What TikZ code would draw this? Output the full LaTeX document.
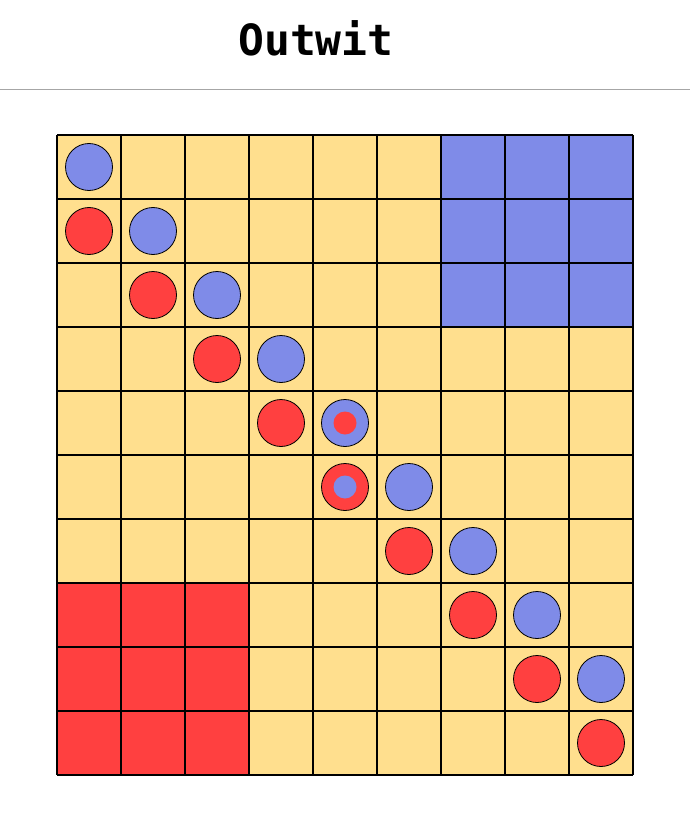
\documentclass[tikz,border=0pt]{standalone}
\usepackage{fontspec}
\setmonofont{DejaVu Sans Mono}
\definecolor{boardyellow}{HTML}{FFDF8E}
\definecolor{bluepiece}{HTML}{7F8BE8}
\definecolor{redpiece}{HTML}{FF4040}
\tikzset{
  piece/.style={draw=black,line width=0.8pt},
}
\begin{document}
\begin{tikzpicture}[x=1pt,y=-1pt]
\useasboundingbox (0,0) rectangle (690,837);
\node[font=\fontsize{43}{50}\selectfont\ttfamily\bfseries] (title) at (316,38) {Outwit};
\draw[color=black!35,line width=1pt] (0,90) -- (690,90);

% board
\fill[boardyellow] (57,135) rectangle (633,775);
\fill[bluepiece] (441,135) rectangle (633,327);
\fill[redpiece] (57,583) rectangle (249,775);
\foreach \c in {0,...,9}
  \draw[line width=1.6pt] (57+\c*64,135) -- (57+\c*64,775);
\foreach \r in {0,...,10}
  \draw[line width=1.6pt] (57,135+\r*64) -- (633,135+\r*64);

% pieces
\foreach \i in {0,...,8} {
  \ifnum\i=4
    \fill[piece,fill=bluepiece] (89+\i*64,167+\i*64) circle (23.5);
    \fill[redpiece] (89+\i*64,167+\i*64) circle (11.5);
  \else
    \fill[piece,fill=bluepiece] (89+\i*64,167+\i*64) circle (23.5);
  \fi
  \ifnum\i=4
    \fill[piece,fill=redpiece] (89+\i*64,231+\i*64) circle (23.5);
    \fill[bluepiece] (89+\i*64,231+\i*64) circle (11.5);
  \else
    \fill[piece,fill=redpiece] (89+\i*64,231+\i*64) circle (23.5);
  \fi
}
\end{tikzpicture}
\end{document}
